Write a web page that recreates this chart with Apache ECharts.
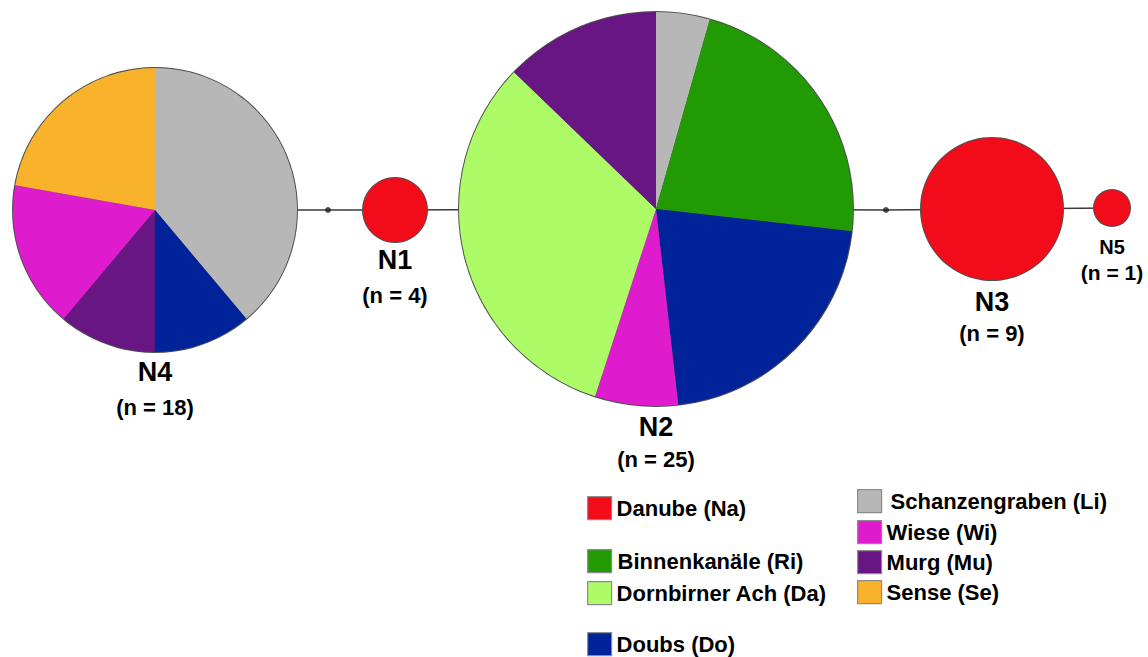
<!DOCTYPE html>
<html>
<head>
<meta charset="utf-8">
<script src="https://cdn.jsdelivr.net/npm/echarts@6/dist/echarts.min.js"></script>
<style>
html,body{margin:0;padding:0;background:#fff;}
#chart{width:1148px;height:657px;}
</style>
</head>
<body>
<div id="chart"></div>
<script>
// ---------- DATA ----------
const categories = ['Danube (Na)', 'Binnenkanäle (Ri)', 'Dornbirner Ach (Da)', 'Doubs (Do)',
                    'Schanzengraben (Li)', 'Wiese (Wi)', 'Murg (Mu)', 'Sense (Se)'];
const haplotypes = ['N4', 'N1', 'N2', 'N3', 'N5'];
const haplotypeN = [18, 4, 25, 9, 1];
// slice composition of each haplotype, clockwise from 12 o'clock
const N4Cats = ['Schanzengraben (Li)', 'Doubs (Do)', 'Murg (Mu)', 'Wiese (Wi)', 'Sense (Se)'];
const N4Vals = [7, 2, 2, 3, 4];
const N1Cats = ['Danube (Na)'];
const N1Vals = [4];
const N2Cats = ['Schanzengraben (Li)', 'Binnenkanäle (Ri)', 'Doubs (Do)', 'Wiese (Wi)', 'Dornbirner Ach (Da)', 'Murg (Mu)'];
const N2Vals = [1.1, 5.6, 5.35, 1.7, 8.05, 3.2];
const N3Cats = ['Danube (Na)'];
const N3Vals = [9];
const N5Cats = ['Danube (Na)'];
const N5Vals = [1];
// network edges (mv = missing intermediate haplotype)
const edges = [['N4', 'mv1'], ['mv1', 'N1'], ['N1', 'N2'], ['N2', 'mv2'], ['mv2', 'N3'], ['N3', 'N5']];

// ---------- LAYOUT / STYLE ----------
const layout = {
  N4: {x: 155, y: 210, r: 142, labelSize: 27, subSize: 22, dy: 20, subGap: 35},
  N1: {x: 395, y: 210, r: 32, labelSize: 27, subSize: 22, dy: 18, subGap: 35},
  N2: {x: 656, y: 209, r: 197, labelSize: 27, subSize: 22, dy: 21, subGap: 32},
  N3: {x: 992, y: 209, r: 71, labelSize: 27, subSize: 22, dy: 22, subGap: 31},
  N5: {x: 1112, y: 208, r: 18, labelSize: 20, subSize: 21, dy: 21, subGap: 25},
  mv1: {x: 328, y: 210},
  mv2: {x: 886, y: 210}
};
const colors = {
  'Danube (Na)': '#f20c19',
  'Binnenkanäle (Ri)': '#229a04',
  'Dornbirner Ach (Da)': '#adfc67',
  'Doubs (Do)': '#00239a',
  'Schanzengraben (Li)': '#b8b7b7',
  'Wiese (Wi)': '#df1ccd',
  'Murg (Mu)': '#671684',
  'Sense (Se)': '#f8b22c'
};
const legendPos = {
  'Danube (Na)': [587, 496, 0],
  'Binnenkanäle (Ri)': [587, 549, 1],
  'Dornbirner Ach (Da)': [587, 581, 0],
  'Doubs (Do)': [587, 632, 0],
  'Schanzengraben (Li)': [857, 489, 4],
  'Wiese (Wi)': [857, 520, 0],
  'Murg (Mu)': [857, 550, 0],
  'Sense (Se)': [857, 580, 0]
};
const FONT = '"Liberation Sans", Arial, Helvetica, sans-serif';

const composition = {
  N4: [N4Cats, N4Vals], N1: [N1Cats, N1Vals], N2: [N2Cats, N2Vals], N3: [N3Cats, N3Vals], N5: [N5Cats, N5Vals]
};

const series = [];
// edges
series.push({
  type: 'lines',
  coordinateSystem: 'cartesian2d',
  z: 0,
  silent: true,
  lineStyle: {color: '#3a3a3a', width: 1.6, opacity: 1},
  data: edges.map(e => ({coords: [[layout[e[0]].x, layout[e[0]].y], [layout[e[1]].x, layout[e[1]].y]]}))
});
// missing intermediate nodes
series.push({
  type: 'scatter',
  z: 1,
  silent: true,
  symbolSize: 6,
  itemStyle: {color: '#222'},
  data: ['mv1', 'mv2'].map(k => [layout[k].x, layout[k].y])
});

haplotypes.forEach((h, i) => {
  const L = layout[h];
  // outline underlay
  series.push({
    type: 'pie', name: h + '-outline', silent: true, z: 2,
    center: [L.x, L.y], radius: [0, L.r + 1],
    label: {show: false}, labelLine: {show: false},
    emphasis: {disabled: true},
    itemStyle: {color: '#505050'},
    data: [{name: h + ' outline', value: 1}]
  });
  const [cats, vals] = composition[h];
  series.push({
    type: 'pie', name: h, z: 3,
    center: [L.x, L.y], radius: [0, L.r],
    startAngle: 90, clockwise: true,
    avoidLabelOverlap: false,
    label: {show: false}, labelLine: {show: false},
    emphasis: {disabled: true},
    itemStyle: {borderWidth: 0},
    data: cats.map((c, j) => ({name: c, value: vals[j], itemStyle: {color: colors[c]}}))
  });
});

const graphics = [];
haplotypes.forEach((h, i) => {
  const L = layout[h];
  const ly = L.y + L.r + L.dy;
  graphics.push({
    type: 'text', x: L.x, y: ly, z: 10,
    style: {text: h, font: 'bold ' + L.labelSize + 'px ' + FONT, fill: '#000',
            textAlign: 'center', textVerticalAlign: 'middle', align: 'center', verticalAlign: 'middle'}
  });
  graphics.push({
    type: 'text', x: L.x, y: ly + L.subGap, z: 10,
    style: {text: '(n = ' + haplotypeN[i] + ')', font: 'bold ' + L.subSize + 'px ' + FONT, fill: '#000',
            textAlign: 'center', textVerticalAlign: 'middle', align: 'center', verticalAlign: 'middle'}
  });
});

const legends = categories.map(c => ({
  data: [c],
  left: legendPos[c][0], top: legendPos[c][1],
  padding: 0,
  selectedMode: false,
  icon: 'rect',
  itemWidth: 24, itemHeight: 23,
  itemStyle: {borderColor: '#8c8c8c', borderWidth: 1.2},
  textStyle: {fontFamily: FONT, fontWeight: 'bold', fontSize: 22, color: '#000',
              padding: [0, 0, 0, legendPos[c][2]]}
}));

const chart = echarts.init(document.getElementById('chart'), null, {renderer: 'svg', width: 1148, height: 657});
chart.setOption({
  animation: false,
  backgroundColor: '#fff',
  grid: {left: 0, right: 0, top: 0, bottom: 0},
  xAxis: {type: 'value', min: 0, max: 1148, show: false},
  yAxis: {type: 'value', min: 0, max: 657, inverse: true, show: false},
  legend: legends,
  series: series,
  graphic: graphics
});
</script>
</body>
</html>
